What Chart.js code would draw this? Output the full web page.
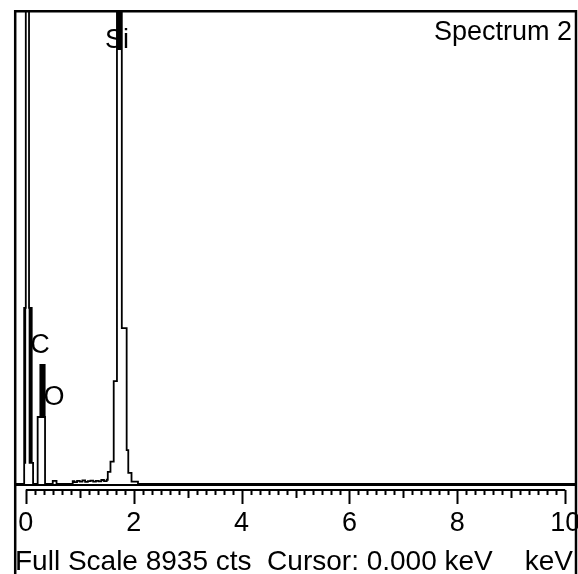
<!DOCTYPE html>
<html>
<head>
<meta charset="utf-8">
<script src="https://cdn.jsdelivr.net/npm/chart.js@4.4.0/dist/chart.umd.min.js"></script>
<style>
html, body { margin: 0; padding: 0; background: #fff; }
</style>
</head>
<body>
<canvas id="graph" width="578" height="574"></canvas>
<script>
// spectrum: left edge of each step (keV) and counts in it
const energy = [
    -0.20, -0.03, -0.02, -0.01, 0.00, 0.06, 0.07, 0.08, 0.09, 0.10, 0.11, 0.135,
    0.22, 0.27, 0.28, 0.29, 0.30, 0.31, 0.32, 0.33, 0.34, 0.35, 0.357,
    0.50, 0.57,
    0.87, 0.90, 0.95, 1.00, 1.05, 1.10, 1.15, 1.20, 1.25, 1.30, 1.35, 1.40, 1.45, 1.50,
    1.52, 1.57, 1.63, 1.69, 1.70, 1.71, 1.72, 1.73, 1.74, 1.75, 1.76, 1.77,
    1.78, 1.87, 1.90, 1.96, 2.08, 10.20
];
const counts = [
    0, 3320, 400, 3320, 15000, 3320, 400, 3320, 400, 3320, 400, 0,
    1263, 2243, 1263, 2243, 1263, 2243, 1263, 2243, 2243, 1263, 0,
    60, 0,
    55, 35, 60, 45, 70, 40, 55, 65, 45, 60, 50, 75, 55, 80,
    230, 420, 1940, 13000, 8200, 13000, 8200, 13000, 8200, 13000, 8200, 13000,
    2940, 640, 210, 45, 0, 0
];
// element labels
const peakNames = ['C', 'O', 'Si'];
const peakEnergy = [0.263, 0.523, 1.69];
const peakCounts = [2469, 1489, 8219];
// axis
const tickValues = [0, 2, 4, 6, 8, 10];
const tickLabels = ['0', '2', '4', '6', '8', '10'];
const fullScale = 8935;
const spectrumName = 'Spectrum 2';
const cursorText = 'Cursor: 0.000 keV';
const unitText = 'keV';

const FAMILY = '"Liberation Sans", Arial, sans-serif';

// frame, ruler, labels and footer
const incaPlugin = {
    id: 'inca',
    afterDraw(chart) {
        const ctx = chart.ctx;
        const a = chart.chartArea;
        const x = chart.scales.x;
        const y = chart.scales.y;
        ctx.save();
        ctx.strokeStyle = '#000';
        ctx.fillStyle = '#000';
        ctx.lineWidth = 2.5;
        // outer frame
        ctx.beginPath();
        ctx.moveTo(15.2, chart.height);
        ctx.lineTo(15.2, 11.2);
        ctx.lineTo(576, 11.2);
        ctx.lineTo(576, chart.height);
        ctx.stroke();
        // bottom of spectrum window
        ctx.lineWidth = 2;
        ctx.beginPath();
        ctx.moveTo(a.left, a.bottom + 1);
        ctx.lineTo(a.right, a.bottom + 1);
        ctx.stroke();
        // energy ruler
        const ry = a.bottom + 6;
        const x0 = x.getPixelForValue(0);
        const x10 = x.getPixelForValue(10);
        ctx.beginPath();
        ctx.moveTo(x0, ry);
        ctx.lineTo(x10, ry);
        for (let i = 0; i <= 60; i++) {
            const px = Math.round(x.getPixelForValue(i / 6)) + 0.5;
            let len = 5;
            if (i % 12 == 0) len = 14;
            else if (i % 6 == 0) len = 8;
            ctx.moveTo(px, ry);
            ctx.lineTo(px, ry + len);
        }
        ctx.stroke();
        // element labels
        ctx.font = '27px ' + FAMILY;
        ctx.textAlign = 'center';
        ctx.textBaseline = 'alphabetic';
        for (let i = 0; i < peakNames.length; i++) {
            ctx.fillText(peakNames[i], x.getPixelForValue(peakEnergy[i]), y.getPixelForValue(peakCounts[i]));
        }
        // spectrum name
        ctx.textAlign = 'right';
        ctx.fillText(spectrumName, 572, 40);
        // footer
        ctx.font = '28px ' + FAMILY;
        ctx.textAlign = 'left';
        ctx.fillText('Full Scale ' + fullScale + ' cts  ' + cursorText, 15, 570);
        ctx.textAlign = 'right';
        ctx.fillText(unitText, 573, 570);
        ctx.restore();
    }
};

const ctx = document.getElementById('graph').getContext('2d');
const graph = new Chart(ctx, {
    type: 'line',
    data: {
        datasets: [{
            label: spectrumName,
            data: energy.map(function(e, i){ return {x: e, y: counts[i]}; }),
            stepped: 'before',
            borderColor: '#000',
            borderWidth: 1.8,
            pointRadius: 0,
            fill: false
        }]
    },
    options: {
        responsive: false,
        animation: false,
        devicePixelRatio: 1,
        layout: { padding: { left: 15, right: 2, top: 10, bottom: 0 } },
        plugins: {
            legend: { display: false },
            tooltip: { enabled: false },
            title: { display: false }
        },
        scales: {
            x: {
                type: 'linear',
                min: -0.2,
                max: 10.2,
                grid: { display: false, drawTicks: false },
                border: { display: false },
                ticks: {
                    color: '#000',
                    font: { family: FAMILY, size: 27 },
                    padding: 23,
                    maxRotation: 0,
                    autoSkip: false,
                    callback: function(v){
                        const k = tickValues.indexOf(v);
                        return k >= 0 ? tickLabels[k] : '';
                    }
                },
                afterBuildTicks: function(s){
                    s.ticks = tickValues.map(function(v){ return {value: v}; });
                },
                afterFit: function(s){
                    s.height = 90;
                    s.paddingLeft = 0;
                    s.paddingRight = 0;
                }
            },
            y: {
                display: false,
                min: 0,
                max: fullScale
            }
        }
    },
    plugins: [incaPlugin]
});
</script>
</body>
</html>
